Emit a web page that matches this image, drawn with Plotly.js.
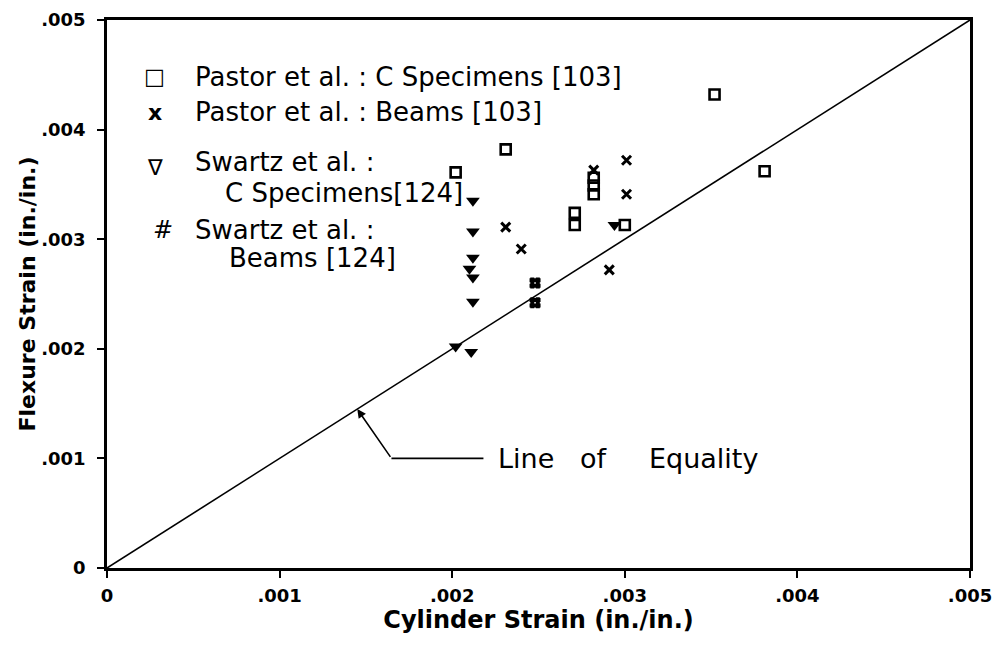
<!DOCTYPE html>
<html>
<head>
<meta charset="utf-8">
<script src="https://cdn.plot.ly/plotly-3.0.1.min.js"></script>
<style>html,body{margin:0;padding:0;background:#fff;}#chart{width:1004px;height:646px;}</style>
</head>
<body>
<div id="chart"></div>
<script>
// Pastor et al.: C Specimens [103]
const pastorC_x = [0.00231, 0.00202, 0.00352, 0.00381, 0.00282, 0.00282, 0.00282, 0.00271, 0.00271, 0.00300];
const pastorC_y = [0.00382, 0.00361, 0.00432, 0.00362, 0.00356, 0.00349, 0.00341, 0.00324, 0.00313, 0.00313];
// Pastor et al.: Beams [103]
const pastorB_x = [0.00231, 0.00240, 0.00282, 0.00301, 0.00301, 0.00291];
const pastorB_y = [0.00311, 0.00291, 0.00363, 0.00372, 0.00341, 0.00272];
// Swartz et al.: C Specimens [124]
const swartzC_x = [0.00212, 0.00212, 0.00212, 0.00210, 0.00212, 0.00212, 0.00202, 0.00211, 0.00294];
const swartzC_y = [0.00335, 0.00307, 0.00283, 0.00273, 0.00265, 0.00243, 0.00202, 0.00197, 0.00313];
// Swartz et al.: Beams [124]
const swartzB_x = [0.00248, 0.00248];
const swartzB_y = [0.00260, 0.00242];
// Line of equality
const equality_x = [0, 0.005];
const equality_y = [0, 0.005];

const tickVals = [0, 0.001, 0.002, 0.003, 0.004, 0.005];
const tickText = ['0', '.001', '.002', '.003', '.004', '.005'];

const legendLabels = [
  'Pastor et al. : C Specimens [103]',
  'Pastor et al. : Beams [103]',
  'Swartz et al. :',
  'C Specimens[124]',
  'Swartz et al. :',
  'Beams [124]'
];
const legendSymbols = ['\u25A1', 'x', '\u2207', '#'];
const calloutText = 'Line\u00A0\u00A0\u00A0of\u00A0\u00A0\u00A0\u00A0\u00A0Equality';

const traces = [
  {x: equality_x, y: equality_y, mode: 'lines', line: {color: '#000', width: 1.6}, hoverinfo: 'skip', showlegend: false},
  {x: pastorC_x, y: pastorC_y, mode: 'markers', name: legendLabels[0],
   marker: {symbol: 'square-open', size: 10, color: '#000', line: {width: 2.6, color: '#000'}}},
  {x: pastorB_x, y: pastorB_y, mode: 'markers', name: legendLabels[1],
   marker: {symbol: 'x-thin-open', size: 9, color: '#000', line: {width: 3, color: '#000'}}},
  {x: swartzC_x, y: swartzC_y, mode: 'markers', name: 'Swartz et al. : C Specimens [124]',
   marker: {symbol: 'triangle-down', size: 12, color: '#000', line: {width: 0}}},
  {x: swartzB_x, y: swartzB_y, mode: 'markers', name: 'Swartz et al. : Beams [124]',
   marker: {symbol: 'hash-open', size: 11, color: '#000', line: {width: 4, color: '#000'}}}
];

const legFont = {family: 'DejaVu Sans', size: 26, color: '#000'};
const symFont = {family: 'DejaVu Sans', size: 22, color: '#000'};
function pa(x, y, text, font, xanchor) {
  return {xref: 'paper', yref: 'paper', x: x, y: y, text: text, showarrow: false,
          xanchor: xanchor || 'left', yanchor: 'middle', font: font};
}

const annotations = [
  pa(0.0556, 0.896, legendSymbols[0], symFont, 'center'),
  pa(0.0997, 0.896, legendLabels[0], legFont),
  pa(0.0556, 0.832, legendSymbols[1], {family: 'DejaVu Sans', size: 22, color: '#000', weight: 'bold'}, 'center'),
  pa(0.0997, 0.832, legendLabels[1], legFont),
  pa(0.0556, 0.730, legendSymbols[2], symFont, 'center'),
  pa(0.0997, 0.741, legendLabels[2], legFont),
  pa(0.1344, 0.684, legendLabels[3], legFont),
  pa(0.0649, 0.617, legendSymbols[3], {family: 'DejaVu Sans', size: 24, color: '#000', style: 'italic'}, 'center'),
  pa(0.0997, 0.617, legendLabels[4], legFont),
  pa(0.1390, 0.566, legendLabels[5], legFont),
  {xref: 'x', yref: 'y', x: 0.00145, y: 0.00145, axref: 'x', ayref: 'y', ax: 0.001648, ay: 0.001,
   text: '', showarrow: true, arrowhead: 2, arrowsize: 1.1, arrowwidth: 1.6, arrowcolor: '#000', standoff: 0},
  {xref: 'x', yref: 'y', x: 0.002256, y: 0.001, text: calloutText, showarrow: false,
   xanchor: 'left', yanchor: 'middle', font: {family: 'DejaVu Sans', size: 27, color: '#000'}}
];

const shapes = [
  {type: 'line', xref: 'x', yref: 'y', x0: 0.001648, y0: 0.001, x1: 0.002181, y1: 0.001,
   line: {color: '#000', width: 1.6}}
];

const axisCommon = {
  range: [0, 0.005], tickvals: tickVals, ticktext: tickText,
  showgrid: false, zeroline: false, showline: true, linecolor: '#000', linewidth: 2.8,
  mirror: true, ticks: 'outside', ticklen: 7, tickwidth: 2, tickcolor: '#000',
  tickfont: {family: 'DejaVu Sans', size: 18, color: '#000', weight: 'bold'}
};

const layout = {
  width: 1004, height: 646,
  margin: {l: 107, r: 34, t: 20, b: 78},
  paper_bgcolor: '#fff', plot_bgcolor: '#fff',
  showlegend: false,
  xaxis: Object.assign({}, axisCommon, {
    ticklabelstandoff: 3,
    title: {text: 'Cylinder Strain (in./in.)', standoff: 6,
            font: {family: 'DejaVu Sans', size: 24, color: '#000', weight: 'bold'}}
  }),
  yaxis: Object.assign({}, axisCommon, {
    ticklabelstandoff: 8,
    title: {text: 'Flexure Strain (in./in.)', standoff: 0,
            font: {family: 'DejaVu Sans', size: 22, color: '#000', weight: 'bold'}}
  }),
  annotations: annotations,
  shapes: shapes
};

Plotly.newPlot('chart', traces, layout, {displayModeBar: false, staticPlot: true});
</script>
</body>
</html>
